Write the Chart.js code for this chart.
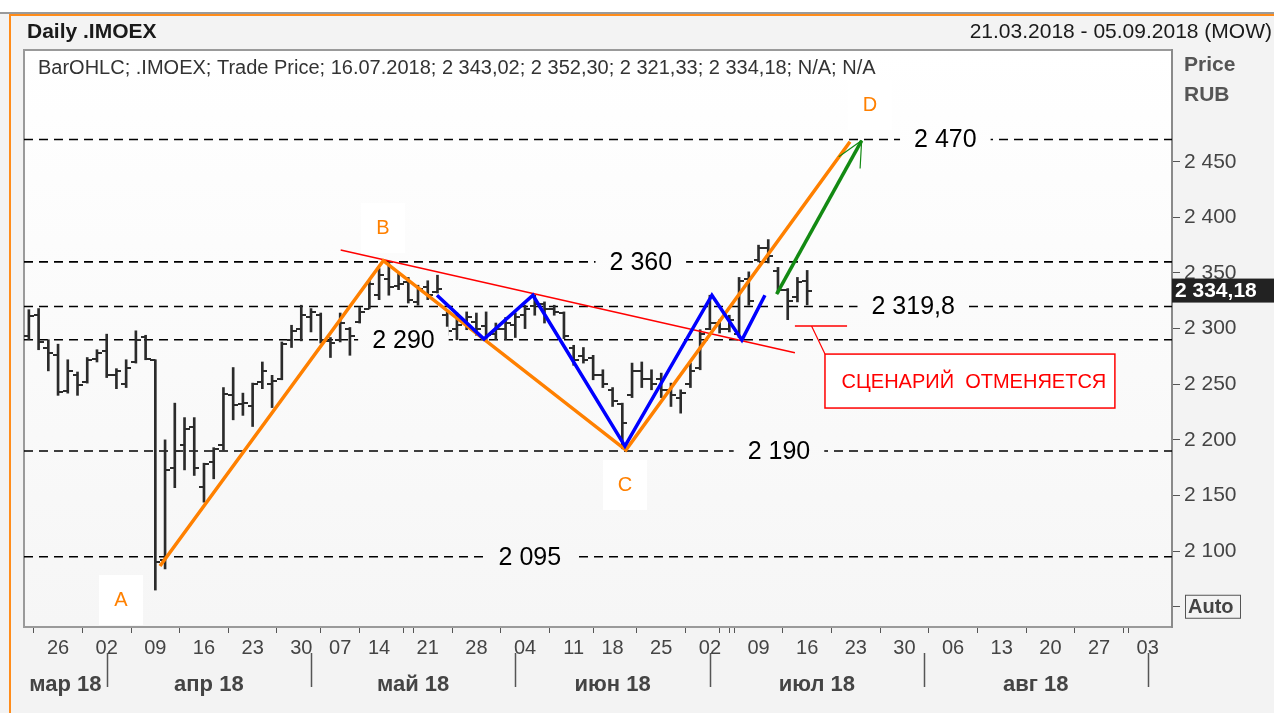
<!DOCTYPE html>
<html>
<head>
<meta charset="utf-8">
<title>Daily .IMOEX</title>
<script src="https://cdn.jsdelivr.net/npm/chart.js@4.4.1/dist/chart.umd.min.js"></script>
<style>
  html, body { margin: 0; padding: 0; background: #f3f3f3; }
  #chart { display: block; }
</style>
</head>
<body>
<canvas id="chart" width="1274" height="713"></canvas>
<script>
// торговые дни 21.03 - 16.07.2018, по индексу на оси x
const days = ['21.03','22.03','23.03','26.03','27.03','28.03','29.03','30.03',
  '02.04','03.04','04.04','05.04','06.04','09.04','10.04','11.04','12.04','13.04','16.04','17.04',
  '18.04','19.04','20.04','23.04','24.04','25.04','26.04','27.04','30.04',
  '02.05','03.05','04.05','07.05','08.05','10.05','11.05','14.05','15.05','16.05','17.05','18.05',
  '21.05','22.05','23.05','24.05','25.05','28.05','29.05','30.05','31.05',
  '01.06','04.06','05.06','06.06','07.06','08.06','11.06','13.06','14.06','15.06','18.06','19.06',
  '20.06','21.06','22.06','25.06','26.06','27.06','28.06','29.06',
  '02.07','03.07','04.07','05.07','06.07','09.07','10.07','11.07','12.07','13.07','16.07'];

const opens = [2293,2312,2283,2276,2244,2258,2252,2273,2280,2258,
  2250,2270,2292,2272,2092,2175,2195,2212,2158,2180,
  2195,2240,2232,2230,2252,2250,2255,2290,2300,2310,
  2312,2289,2290,2300,2306,2318,2330,2345,2338,2342,
  2324,2337,2333,2312,2300,2305,2306,2302,2295,2300,
  2303,2312,2320,2322,2318,2314,2283,2275,2274,2258,
  2245,2232,2240,2262,2255,2255,2245,2238,2250,2265,
  2300,2305,2300,2295,2345,2362,2372,2352,2335,2328,2343.02];
const highs = [2317,2318,2290,2286,2272,2261,2274,2281,2295,2264,
  2272,2298,2294,2272,2200,2233,2220,2220,2179,2193,
  2247,2265,2242,2251,2270,2258,2288,2303,2321,2318,
  2314,2292,2314,2301,2319,2344,2354,2359,2350,2346,
  2339,2343,2348,2315,2314,2315,2314,2315,2305,2310,
  2314,2321,2330,2324,2321,2315,2285,2283,2276,2263,
  2247,2233,2269,2270,2263,2260,2251,2245,2269,2299,
  2330,2308,2312,2346,2351,2375,2380,2355,2336,2346,2352.30];
const lows = [2290,2281,2262,2240,2242,2240,2251,2270,2256,2246,
  2247,2269,2272,2065,2084,2157,2173,2168,2144,2165,
  2191,2218,2222,2212,2246,2229,2254,2283,2289,2297,
  2287,2274,2288,2276,2305,2318,2326,2330,2335,2323,
  2321,2326,2332,2294,2290,2299,2294,2289,2290,2290,
  2292,2300,2312,2305,2312,2291,2267,2269,2254,2247,
  2230,2192,2238,2247,2245,2238,2230,2224,2247,2263,
  2299,2296,2297,2292,2321,2360,2359,2332,2308,2324,2321.33];
const closes = [2311,2288,2278,2243,2262,2249,2272,2278,2258,2262,
  2265,2290,2273,2090,2173,2190,2210,2175,2178,2192,
  2241,2231,2233,2250,2262,2253,2286,2298,2312,2315,
  2290,2287,2305,2293,2315,2340,2348,2337,2340,2326,
  2336,2330,2336,2298,2303,2310,2300,2294,2300,2305,
  2310,2318,2322,2318,2315,2293,2272,2272,2258,2250,
  2235,2215,2262,2255,2250,2245,2240,2242,2262,2295,
  2305,2300,2308,2343,2325,2372,2365,2335,2325,2342,2334.18];

// ось x: индекс торгового дня до 05.09 (117)
const lastIdx = 117;
const weekIdx = [3,8,13,18,23,28,32,36,41,46,51,56,60,65,70,75,80,85,90,95,100,105,110,115];
const weekLbl = ['26','02','09','16','23','30','07','14','21','28','04','11','18','25','02','09','16','23','30','06','13','20','27','03'];
const monthSep = [8,29,50,70,92,115];
const monthMid = [3.75,18.5,39.5,60,81,103.5];
const monthLbl = ['мар 18','апр 18','май 18','июн 18','июл 18','авг 18'];
const yTicks = [2050,2100,2150,2200,2250,2300,2350,2400,2450];

// уровни
const levels = [2470, 2360, 2319.8, 2290, 2190, 2095];
const levelTxt = ['2 470','2 360','2 319,8','2 290','2 190','2 095'];
const levelTxtAt = [94.2, 62.9, 90.9, 38.5, 77.1, 51.5];

// разметка A-B-C-D
const abcdX = [13.48, 36.43, 61.37, 84.4];
const abcdY = [2086.6, 2361, 2190.8, 2468];
const abcdName = ['A','B','C','D'];
const abcdNameX = [9.47, 36.4, 61.27, 86.45];
const abcdNameY = [2056, 2390.3, 2159.4, 2500.8];
const waveX = [41.95, 46.78, 51.81, 61.27, 70.21, 73.29, 75.66];
const waveY = [2330, 2290.6, 2330, 2194.4, 2330, 2289.8, 2330];
const trendX = [32.05, 78.74];
const trendY = [2370.6, 2278.3];
const targetX = [76.86, 85.6];
const targetY = [2331, 2469];
const stopX = [78.74, 84.1];
const stopY = 2302.3;
const lastPrice = 2334.18;

const FONT = "'Liberation Sans', Arial, sans-serif";

function fmt(v) {
  return String(v).replace(/\B(?=(\d{3})+(?!\d))/g, ' ');
}
function pts(xs, ys) {
  return xs.map((x, i) => ({ x: x, y: ys[i] }));
}
// засечки open/close для BarOHLC
function tickImg(side) {
  const c = document.createElement('canvas');
  c.width = 10; c.height = 2;
  const g = c.getContext('2d');
  g.fillStyle = '#2b2b2b';
  g.fillRect(side < 0 ? 0 : 5, 0, 5, 2);
  return c;
}
function plotBg(c, a) {
  const gr = c.createLinearGradient(0, a.top, 0, a.bottom);
  gr.addColorStop(0, '#ffffff');
  gr.addColorStop(1, '#f6f6f6');
  return gr;
}

const frame = {
  id: 'frame',
  beforeDraw(chart) {
    const c = chart.ctx, a = chart.chartArea;
    c.save();
    c.fillStyle = '#f3f3f3';
    c.fillRect(0, 0, chart.width, chart.height);
    c.fillStyle = '#ffffff';
    c.fillRect(0, 0, chart.width, 12);
    c.fillStyle = '#9a9a9a';
    c.fillRect(0, 12, chart.width, 2);
    c.fillStyle = '#ff8c1a';
    c.fillRect(9, 14, chart.width - 9, 2);
    c.fillRect(9, 14, 2, chart.height - 14);
    c.fillStyle = plotBg(c, a);
    c.fillRect(a.left, a.top, a.right - a.left, a.bottom - a.top);
    c.strokeStyle = '#9a9a9a';
    c.lineWidth = 2;
    c.beginPath();
    c.moveTo(a.right, a.top); c.lineTo(a.left, a.top); c.lineTo(a.left, a.bottom);
    c.stroke();

    c.fillStyle = '#1a1a1a';
    c.textBaseline = 'middle';
    c.font = 'bold 21px ' + FONT;
    c.fillText('Daily .IMOEX', 27, 32);
    c.textAlign = 'right';
    c.font = '21px ' + FONT;
    c.fillText('21.03.2018 - 05.09.2018 (MOW)', 1272, 32);
    c.textAlign = 'left';
    c.fillStyle = '#333';
    c.font = '20px ' + FONT;
    c.fillText('BarOHLC; .IMOEX; Trade Price; 16.07.2018; 2 343,02; 2 352,30; 2 321,33; 2 334,18; N/A; N/A', 38, 68);
    c.fillStyle = '#555';
    c.font = 'bold 21px ' + FONT;
    c.fillText('Price', 1184, 65);
    c.fillText('RUB', 1184, 95);
    c.restore();
  },
  afterDatasetsDraw(chart) {
    const c = chart.ctx, x = chart.scales.x, y = chart.scales.y;
    c.save();
    c.textAlign = 'center';
    c.textBaseline = 'middle';
    // подписи уровней
    c.font = '25px ' + FONT;
    c.fillStyle = plotBg(c, chart.chartArea);
    levels.forEach((v, i) => {
      const px = x.getPixelForValue(levelTxtAt[i]), py = y.getPixelForValue(v);
      const w = c.measureText(levelTxt[i]).width + 28;
      c.fillRect(px - w / 2, py - 13, w, 26);
    });
    c.fillStyle = '#000';
    levels.forEach((v, i) => {
      c.fillText(levelTxt[i], x.getPixelForValue(levelTxtAt[i]), y.getPixelForValue(v) + 1);
    });
    // точки A B C D
    c.font = '20px ' + FONT;
    abcdName.forEach((n, i) => {
      const px = x.getPixelForValue(abcdNameX[i]), py = y.getPixelForValue(abcdNameY[i]);
      c.fillStyle = '#ffffff';
      c.fillRect(px - 22, py - 25, 44, 50);
      c.fillStyle = '#ff8000';
      c.fillText(n, px, py);
    });
    // стрелка к цели
    const tx = x.getPixelForValue(targetX[1]), ty = y.getPixelForValue(targetY[1]);
    const sx = x.getPixelForValue(targetX[0]), sy = y.getPixelForValue(targetY[0]);
    const ang = Math.atan2(ty - sy, tx - sx);
    c.strokeStyle = '#138a13';
    c.lineWidth = 1.2;
    c.beginPath();
    [0.45, -0.45].forEach(d => {
      c.moveTo(tx, ty);
      c.lineTo(tx - 28 * Math.cos(ang + d), ty - 28 * Math.sin(ang + d));
    });
    c.stroke();
    // выноска "сценарий отменяется"
    const bx1 = x.getPixelForValue(81.83), bx2 = x.getPixelForValue(111.63);
    const by1 = y.getPixelForValue(2277.1), by2 = y.getPixelForValue(2228.6);
    c.fillStyle = '#ffffff';
    c.fillRect(bx1, by1, bx2 - bx1, by2 - by1);
    c.strokeStyle = '#ff0000';
    c.lineWidth = 1.5;
    c.strokeRect(bx1, by1, bx2 - bx1, by2 - by1);
    c.fillStyle = '#ff0000';
    c.font = '20px ' + FONT;
    c.fillText('СЦЕНАРИЙ  ОТМЕНЯЕТСЯ', (bx1 + bx2) / 2 + 4, (by1 + by2) / 2 + 1);
    c.restore();
  },
  afterDraw(chart) {
    const c = chart.ctx, x = chart.scales.x, y = chart.scales.y, xm = chart.scales.xm;
    c.save();
    // разделители месяцев
    c.strokeStyle = '#555';
    c.lineWidth = 1.5;
    c.beginPath();
    monthSep.forEach(i => {
      const px = Math.round(x.getPixelForValue(i)) + 0.5;
      c.moveTo(px, xm.top - 7); c.lineTo(px, xm.top + 27);
    });
    c.stroke();
    // Auto
    const ay = y.getPixelForValue(2050);
    c.strokeStyle = '#555';
    c.lineWidth = 1;
    c.strokeRect(1185.5, ay - 11.5, 55, 23);
    c.fillStyle = '#444';
    c.font = 'bold 20px ' + FONT;
    c.textBaseline = 'middle';
    c.fillText('Auto', 1188, ay + 1);
    // последняя цена
    const py = y.getPixelForValue(lastPrice);
    c.fillStyle = '#222';
    c.fillRect(y.left, py - 12, chart.width - y.left, 24);
    c.fillStyle = '#fff';
    c.font = 'bold 21px ' + FONT;
    c.fillText('2 334,18', y.left + 3, py + 1);
    c.restore();
  }
};

const line = (xs, ys, color, width, order) => ({
  type: 'line', data: pts(xs, ys), borderColor: color, borderWidth: width,
  pointRadius: 0, fill: false, tension: 0, order: order
});

const datasets = [
  {
    type: 'bar',
    data: days.map((d, i) => ({ x: i, y: [lows[i], highs[i]] })),
    backgroundColor: '#2b2b2b', borderWidth: 0, barThickness: 2, order: 5
  },
  {
    type: 'scatter', data: pts(days.map((d, i) => i), opens),
    pointStyle: tickImg(-1), order: 5
  },
  {
    type: 'scatter', data: pts(days.map((d, i) => i), closes),
    pointStyle: tickImg(1), order: 5
  }
];
levels.forEach(v => {
  datasets.push(Object.assign(line([-0.5, lastIdx + 0.5], [v, v], '#000', 1.6, 10), { borderDash: [9, 6] }));
});
datasets.push(line(trendX, trendY, '#ff0000', 1.5, 3));
datasets.push(line(stopX, [stopY, stopY], '#ff0000', 1.5, 3));
datasets.push(line([80.45, 81.83], [stopY, 2277.1], '#ff0000', 1.2, 3));
datasets.push(line(abcdX, abcdY, '#ff8000', 3.5, 2));
datasets.push(line(waveX, waveY, '#0000ff', 3.5, 1));
datasets.push(line(targetX, targetY, '#138a13', 3.5, 1));

new Chart(document.getElementById('chart'), {
  type: 'bar',
  data: { datasets: datasets },
  options: {
    responsive: false,
    animation: false,
    events: [],
    layout: { padding: { top: 50, left: 24, right: 0, bottom: 0 } },
    plugins: { legend: { display: false }, tooltip: { enabled: false } },
    scales: {
      x: {
        type: 'linear', position: 'bottom', weight: 0, offset: false,
        min: -0.5, max: lastIdx + 0.5,
        afterBuildTicks: s => { s.ticks = weekIdx.concat([29, 50, 92]).map(v => ({ value: v })); },
        afterFit: s => { s.height = 33; },
        grid: { drawOnChartArea: false, tickLength: 6, color: '#555', lineWidth: 1 },
        border: { display: true, color: '#9a9a9a', width: 2 },
        ticks: {
          autoSkip: false, maxRotation: 0, padding: 3, color: '#444',
          font: { family: FONT, size: 20 },
          callback: v => { const k = weekIdx.indexOf(v); return k < 0 ? '' : weekLbl[k]; }
        }
      },
      xm: {
        type: 'linear', position: 'bottom', weight: 1, offset: false,
        min: -0.5, max: lastIdx + 0.5,
        afterBuildTicks: s => { s.ticks = monthMid.map(v => ({ value: v })); },
        afterFit: s => { s.height = 53; },
        grid: { display: false },
        border: { display: false },
        ticks: {
          autoSkip: false, maxRotation: 0, padding: 4, color: '#444',
          font: { family: FONT, size: 22, weight: 'bold' },
          callback: v => monthLbl[monthMid.indexOf(v)]
        }
      },
      y: {
        position: 'right',
        min: 2031.8, max: 2550.4,
        afterBuildTicks: s => { s.ticks = yTicks.map(v => ({ value: v })); },
        afterFit: s => { s.width = 102; },
        grid: { drawOnChartArea: false, tickLength: 8, color: '#555' },
        border: { display: true, color: '#8a8a8a', width: 2 },
        ticks: {
          padding: 4, color: '#444',
          font: { family: FONT, size: 21 },
          callback: v => v === 2050 ? '' : fmt(v)
        }
      }
    }
  },
  plugins: [frame]
});
</script>
</body>
</html>
